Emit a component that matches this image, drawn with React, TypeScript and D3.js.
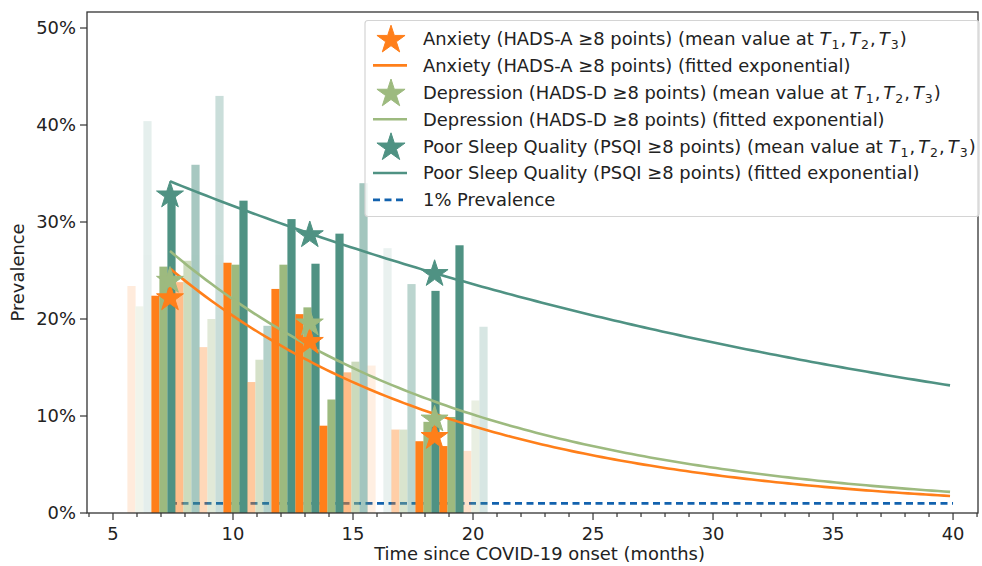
import React from 'react';
import * as d3 from 'd3';

// study groups: time point and weight (bar opacity)
const studyMonths = [6.1, 7.1, 8.1, 9.1, 10.1, 11.1, 12.1, 13.1, 14.1, 15.1, 16.1, 17.1, 18.1, 19.1, 20.1];
const studyWeight = [0.15, 1, 0.5, 0.3, 1, 0.42, 1, 1, 1, 0.52, 0.12, 0.38, 1, 1, 0.22];
const anxietyBars = [23.4, 22.4, 23.8, 17.1, 25.8, 13.5, 23.1, 20.5, 9.0, 14.5, 15.2, 8.6, 7.4, 6.9, 6.4];
const depressionBars = [21.3, 25.4, 26.0, 20.0, 25.6, 15.8, 25.6, 21.2, 11.7, 15.6, NaN, 8.6, 9.4, 9.9, 11.6];
const sleepBars = [40.4, 33.0, 35.9, 43.0, 32.2, 19.3, 30.3, 25.7, 28.8, 34.0, 27.3, 23.6, 22.9, 27.6, 19.2];

// mean value at T1, T2, T3
const meanMonths = [7.375, 13.2, 18.4];
const anxietyMeans = [22.3, 17.8, 8.0];
const depressionMeans = [24.1, 19.7, 9.8];
const sleepMeans = [32.9, 28.8, 24.8];

// fitted exponential: a * exp(-k * (t - T1)), drawn from T1 to 40 months
const fitA = [25.2, 27.0, 34.2];
const fitK = [0.082, 0.0775, 0.0294];
const fitEnd = 40;
const prevalenceLine = 1;

const xTicks = [5, 10, 15, 20, 25, 30, 35, 40];
const yTicks = [0, 10, 20, 30, 40, 50];

const colors = ['#ff7f1a', '#9dba7f', '#4f9283'];
const dashColor = '#1262ae';
const names = ['Anxiety (HADS-A \u22658 points)', 'Depression (HADS-D \u22658 points)', 'Poor Sleep Quality (PSQI \u22658 points)'];

const App = () => {
  const width = 982;
  const height = 566;
  const margin = { top: 12, right: 4, bottom: 53, left: 87 };
  const chartWidth = width - margin.left - margin.right;
  const chartHeight = height - margin.top - margin.bottom;

  const xScale = d3.scaleLinear().domain([3.917, 41.04]).range([0, chartWidth]);
  const yScale = d3.scaleLinear().domain([0, 51.65]).range([chartHeight, 0]);
  const barW = 1 / 3;
  const pxW = xScale(barW) - xScale(0);

  const series = [anxietyBars, depressionBars, sleepBars];
  const means = [anxietyMeans, depressionMeans, sleepMeans];

  const star = d3.symbol(d3.symbolStar, 225)();
  const legendStar = d3.symbol(d3.symbolStar, 245)();

  const fitPath = (s: number) => {
    const ts = d3.range(meanMonths[0], fitEnd + 0.001, 0.25);
    return d3.line<number>()
      .x(t => xScale(t))
      .y(t => yScale(fitA[s] * Math.exp(-fitK[s] * (t - meanMonths[0]))))(ts);
  };

  const minorTicks = d3.range(4, 42);

  const font = 'DejaVu Sans, sans-serif';
  const tickFont = 17.9;
  const legendFont = 17.9;
  const legendX = 365;
  const legendY = 20.5;
  const rowH = 26.9;

  const mathT = (
    <>
      {[1, 2, 3].map((n, i) => (
        <React.Fragment key={n}>
          <tspan fontStyle='italic' dx={i === 0 ? 0 : 3}>T</tspan>
          <tspan fontSize={legendFont * 0.7} dy={4} dx={1}>{n}</tspan>
          <tspan dy={-4} dx={1}>{i < 2 ? ',' : ')'}</tspan>
        </React.Fragment>
      ))}
    </>
  );

  const legendRows = [
    { kind: 'star', c: 0 }, { kind: 'line', c: 0 },
    { kind: 'star', c: 1 }, { kind: 'line', c: 1 },
    { kind: 'star', c: 2 }, { kind: 'line', c: 2 },
    { kind: 'dash', c: -1 },
  ];

  return (
    <svg width={width} height={height} style={{ position: 'absolute', left: 0, top: 0, background: '#fff' }} fontFamily={font}>
      <g transform={`translate(${margin.left}, ${margin.top})`}>
        <line x1={xScale(meanMonths[0])} x2={xScale(fitEnd)} y1={yScale(prevalenceLine)} y2={yScale(prevalenceLine)}
          stroke={dashColor} strokeWidth={2.8} strokeDasharray='7,4.5' />
        {studyMonths.map((t, i) => (
          <g key={`grp-${i}`} opacity={studyWeight[i]}>
            {series.map((vals, s) => isNaN(vals[i]) ? null : (
              <rect key={s} x={xScale(t + (s - 1.5) * barW)} width={pxW + 0.2}
                y={yScale(vals[i])} height={chartHeight - yScale(vals[i])} fill={colors[s]} />
            ))}
          </g>
        ))}
        {[0, 1, 2].map(s => (
          <path key={`fit-${s}`} d={fitPath(s) || ''} fill='none' stroke={colors[s]} strokeWidth={2.6} />
        ))}
        {means.map((vals, s) => vals.map((v, i) => (
          <path key={`star-${s}-${i}`} d={star || ''} transform={`translate(${xScale(meanMonths[i])}, ${yScale(v) + 1.5})`}
            fill={colors[s]} stroke={colors[s]} strokeWidth={1} />
        )))}

        {/* frame */}
        <rect x={0} y={0} width={chartWidth} height={chartHeight} fill='none' stroke='#333' strokeWidth={1.3} />

        {/* x axis */}
        {minorTicks.map(t => (
          <line key={`mt-${t}`} x1={xScale(t)} x2={xScale(t)} y1={chartHeight} y2={chartHeight + (t % 5 === 0 ? 7 : 4)} stroke='#333' strokeWidth={1.2} />
        ))}
        {xTicks.map(t => (
          <text key={`xt-${t}`} x={xScale(t)} y={chartHeight + 27} textAnchor='middle' fontSize={tickFont} fill='#222'>{t}</text>
        ))}
        <text x={chartWidth / 2 + 7} y={chartHeight + 47} textAnchor='middle' fontSize={tickFont} fill='#222'>Time since COVID-19 onset (months)</text>

        {/* y axis */}
        {yTicks.map(t => (
          <g key={`yt-${t}`}>
            <line x1={-7} x2={0} y1={yScale(t)} y2={yScale(t)} stroke='#333' strokeWidth={1.2} />
            <text x={-11} y={yScale(t)} dy='0.36em' textAnchor='end' fontSize={tickFont} fill='#222'>{`${t}%`}</text>
          </g>
        ))}
        <text transform={`translate(${-63}, ${chartHeight / 2 + 10}) rotate(-90)`} textAnchor='middle' fontSize={tickFont} fill='#222'>Prevalence</text>
      </g>

      {/* legend */}
      <g>
        <rect x={legendX} y={legendY} width={614} height={196} rx={3} fill='#fff' fillOpacity={0.8} stroke='#d4d4d4' strokeWidth={1.2} />
        {legendRows.map((r, i) => {
          const cy = legendY + 18 + i * rowH;
          return (
            <g key={`leg-${i}`}>
              {r.kind === 'star' && (
                <path d={legendStar || ''} transform={`translate(391, ${cy + 1.5})`} fill={colors[r.c]} stroke={colors[r.c]} strokeWidth={1} />
              )}
              {r.kind === 'line' && (
                <line x1={373} x2={407} y1={cy} y2={cy} stroke={colors[r.c]} strokeWidth={2.6} />
              )}
              {r.kind === 'dash' && (
                <line x1={373} x2={407} y1={cy} y2={cy} stroke={dashColor} strokeWidth={2.8} strokeDasharray='7,4.5' />
              )}
              <text x={423} y={cy} dy='0.36em' fontSize={legendFont} fill='#222'>
                {r.kind === 'dash' ? '1% Prevalence' : (
                  r.kind === 'line' ? `${names[r.c]} (fitted exponential)` : (
                    <>
                      {`${names[r.c]} (mean value at `}
                      {mathT}
                    </>
                  )
                )}
              </text>
            </g>
          );
        })}
      </g>
    </svg>
  );
};

export default App;
